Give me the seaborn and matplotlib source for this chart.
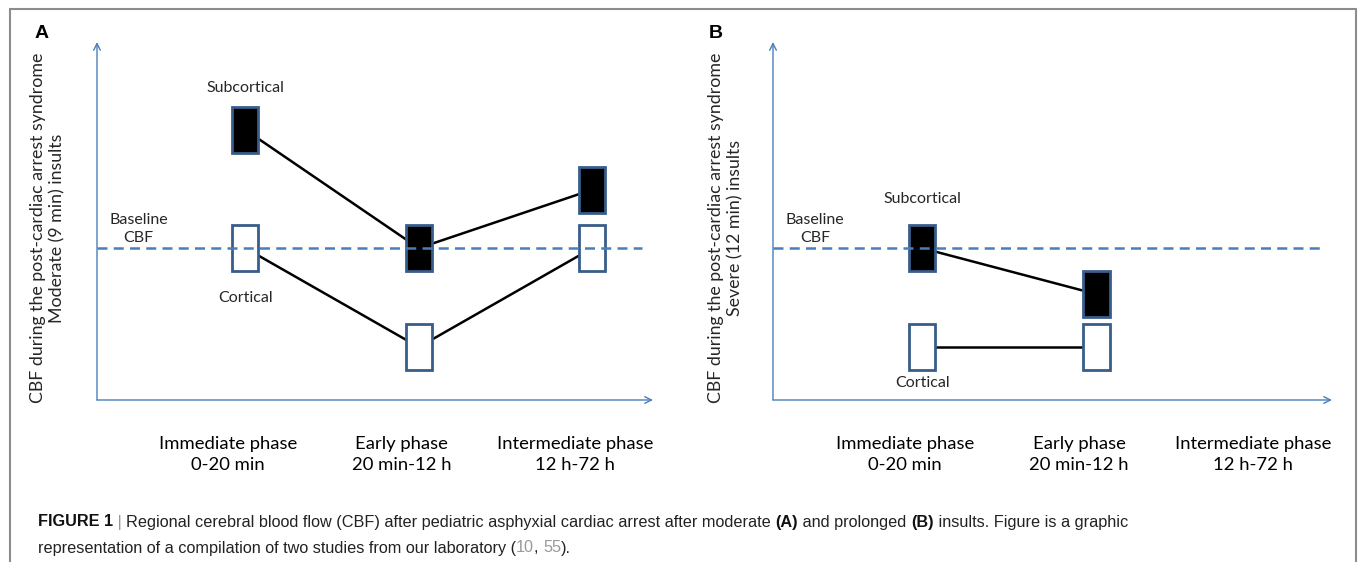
import matplotlib
matplotlib.use("Agg")
import matplotlib.pyplot as plt
from matplotlib.lines import Line2D
import numpy as np
import seaborn as sns

# ---------------------------------------------------------------------------
# Data (box centres, in box-heights relative to baseline CBF = 0)
# ---------------------------------------------------------------------------
phases = ["Immediate phase\n0-20 min", "Early phase\n20 min-12 h", "Intermediate phase\n12 h-72 h"]
moderate_subcortical = [2.57, 0.0, 1.27]
moderate_cortical = [0.0, -2.15, 0.0]
severe_subcortical = [0.0, -1.0]
severe_cortical = [-2.15, -2.15]

panel_letters = ["A", "B"]
ylabels = [
    "CBF during the post-cardiac arrest syndrome\nModerate (9 min) insults",
    "CBF during the post-cardiac arrest syndrome\nSevere (12 min) insults",
]

BLUE = "#4a7ebb"
EDGE = "#385d8a"
CHART_FONT = ["Lato", "DejaVu Sans"]
CAPTION_FONT = ["Liberation Sans", "DejaVu Sans"]

sns.set_theme(style="white")
plt.rcParams["font.family"] = CHART_FONT

W, H = 1358, 562
fig = plt.figure(figsize=(W / 100, H / 100), dpi=100)


def px_x(x):
    return x / W


def px_y(y):
    return 1 - y / H


def draw_panel(ax, sub, cort, letter, ylabel, letter_x, ylabel_x):
    ax.set_xlim(-0.856, 2.351)
    ax.set_ylim(-3.30, 4.48)
    for s in ax.spines.values():
        s.set_visible(False)

    # axes with open arrow heads
    arrow = dict(arrowstyle="->", color=BLUE, lw=1.0, shrinkA=0, shrinkB=0, mutation_scale=12)
    ax.annotate("", xy=(0, 1), xytext=(0, 0), xycoords="axes fraction", arrowprops=arrow)
    ax.annotate("", xy=(1, 0), xytext=(0, 0), xycoords="axes fraction", arrowprops=arrow)

    # baseline
    ax.plot([-0.856, 2.29], [0, 0], ls=(0, (4, 2.5)), color=BLUE, lw=1.8, zorder=5)

    xs_sub = np.arange(len(sub))
    xs_cort = np.arange(len(cort))
    sns.lineplot(x=xs_sub, y=sub, ax=ax, color="black", lw=1.8, zorder=2)
    sns.lineplot(x=xs_cort, y=cort, ax=ax, color="black", lw=1.8, zorder=2)

    ax.bar(xs_sub, 1.0, bottom=np.array(sub) - 0.5, width=0.15,
           color="black", edgecolor=EDGE, linewidth=2, zorder=3)
    ax.bar(xs_cort, 1.0, bottom=np.array(cort) - 0.5, width=0.15,
           color="white", edgecolor=EDGE, linewidth=2, zorder=3)

    ax.set_xticks(np.arange(len(phases)) - 0.1)
    ax.set_xticklabels(phases, fontsize=13.3, linespacing=1.35)
    ax.tick_params(axis="x", length=0, pad=26, colors="black")
    ax.set_yticks([])

    ax.text(-0.615, 0.41, "Baseline\nCBF", ha="center", va="center", fontsize=11.5,
            linespacing=1.35)

    fig.text(px_x(letter_x), px_y(33), letter, ha="center", va="center",
             fontsize=14, fontweight="bold", color="black", family=CAPTION_FONT)
    fig.text(px_x(ylabel_x), px_y(228), ylabel, rotation=90, ha="center", va="center",
             fontsize=12.8, linespacing=1.25, multialignment="center")


ax_a = fig.add_axes([px_x(97), px_y(400), 556 / W, 358 / H])
draw_panel(ax_a, moderate_subcortical, moderate_cortical, panel_letters[0], ylabels[0], 42, 48)
ax_a.text(0.0, 3.48, "Subcortical", ha="center", va="center", fontsize=11.5)
ax_a.text(0.0, -1.09, "Cortical", ha="center", va="center", fontsize=11.5)

ax_b = fig.add_axes([px_x(773), px_y(400), 559 / W, 358 / H])
draw_panel(ax_b, severe_subcortical, severe_cortical, panel_letters[1], ylabels[1], 716, 726)
ax_b.text(0.0, 1.07, "Subcortical", ha="center", va="center", fontsize=11.5)
ax_b.text(0.0, -2.93, "Cortical", ha="center", va="center", fontsize=11.5)

# outer frame (open at the bottom)
frame = dict(color="#8c8c8c", lw=1.5, transform=fig.transFigure)
fig.add_artist(Line2D([px_x(10), px_x(10)], [0, px_y(9)], **frame))
fig.add_artist(Line2D([px_x(10), px_x(1356)], [px_y(9), px_y(9)], **frame))
fig.add_artist(Line2D([px_x(1356), px_x(1356)], [px_y(9), 0], **frame))

# caption, drawn run by run
caption_lines = [
    [("FIGURE 1", "bold", "#111111"), (" | ", "normal", "#999999"),
     ("Regional cerebral blood flow (CBF) after pediatric asphyxial cardiac arrest after moderate ", "normal", "#222222"),
     ("(A)", "bold", "#111111"), (" and prolonged ", "normal", "#222222"), ("(B)", "bold", "#111111"),
     (" insults. Figure is a graphic", "normal", "#222222")],
    [("representation of a compilation of two studies from our laboratory (", "normal", "#222222"),
     ("10", "normal", "#9a9a9a"), (", ", "normal", "#222222"), ("55", "normal", "#9a9a9a"),
     (").", "normal", "#222222")],
]
renderer = fig.canvas.get_renderer()
for line, ypix in zip(caption_lines, [522, 548]):
    xpix = 38
    for txt, weight, col in line:
        t = fig.text(px_x(xpix), px_y(ypix), txt, ha="left", va="center", fontsize=11.7,
                     fontweight=weight, color=col, family=CAPTION_FONT)
        xpix += t.get_window_extent(renderer).width

fig.savefig("out.png", dpi=100)
